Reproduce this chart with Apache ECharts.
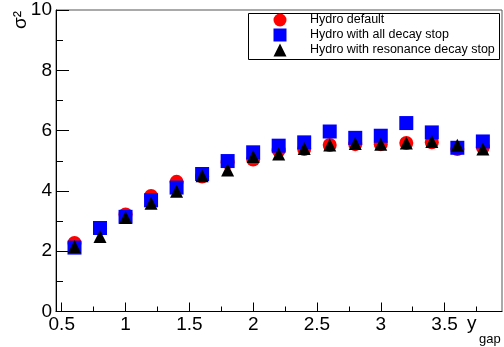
<!DOCTYPE html>
<html>
<head>
<meta charset="utf-8">
<script src="https://cdn.jsdelivr.net/npm/echarts@6/dist/echarts.min.js"></script>
<style>
html,body{margin:0;padding:0;background:#fff;}
#chart{width:504px;height:347px;}
</style>
</head>
<body>
<div id="chart"></div>
<script>
// ---- data ----
const yGap = [0.6, 0.8, 1.0, 1.2, 1.4, 1.6, 1.8, 2.0, 2.2, 2.4, 2.6, 2.8, 3.0, 3.2, 3.4, 3.6, 3.8];
const hydroDefault = [2.27, 2.75, 3.22, 3.83, 4.30, 4.48, 4.95, 5.04, 5.35, 5.39, 5.52, 5.55, 5.55, 5.59, 5.61, 5.39, 5.45];
const hydroAllDecayStop = [2.12, 2.77, 3.14, 3.69, 4.11, 4.56, 4.99, 5.28, 5.50, 5.61, 5.97, 5.76, 5.83, 6.25, 5.94, 5.43, 5.64];
const hydroResonanceStop = [2.16, 2.49, 3.12, 3.59, 3.99, 4.50, 4.69, 5.14, 5.22, 5.41, 5.52, 5.57, 5.55, 5.59, 5.64, 5.51, 5.39];
const seriesNames = ['Hydro default', 'Hydro with all decay stop', 'Hydro with resonance decay stop'];
const xMajorTicks = [0.5, 1, 1.5, 2, 2.5, 3, 3.5];
const xMinorTicks = [0.75, 1.25, 1.75, 2.25, 2.75, 3.25, 3.75];
const xRange = [0.455, 3.95];
const yRange = [0, 10];
const yTickStep = 2;
const yTitle = 'σ²';
const xTitleMain = 'y';
const xTitleSub = 'gap';

const FONT = 'Liberation Sans, Arial, Helvetica, sans-serif';
const pairs = arr => yGap.map((x, i) => [x, arr[i]]);

const chart = echarts.init(document.getElementById('chart'), null, {renderer: 'canvas'});
chart.setOption({
  animation: false,
  backgroundColor: '#ffffff',
  grid: {left: 56, right: 2, top: 10, bottom: 35.5, show: true, borderColor: '#555', borderWidth: 1, backgroundColor: 'transparent'},
  xAxis: [
    {
      type: 'value', min: xRange[0], max: xRange[1], position: 'bottom',
      splitLine: {show: false},
      axisLine: {show: true, lineStyle: {color: '#000', width: 1}},
      axisTick: {show: true, inside: true, length: 9, customValues: xMajorTicks, lineStyle: {color: '#000'}},
      axisLabel: {show: true, customValues: xMajorTicks, margin: 4, color: '#000', fontSize: 19, fontFamily: FONT,
        formatter: v => String(v)}
    },
    {
      type: 'value', min: xRange[0], max: xRange[1], position: 'bottom', offset: 0,
      splitLine: {show: false},
      axisLine: {show: false},
      axisTick: {show: true, inside: true, length: 5, customValues: xMinorTicks, lineStyle: {color: '#000'}},
      axisLabel: {show: false}
    }
  ],
  yAxis: {
    type: 'value', min: yRange[0], max: yRange[1], interval: yTickStep,
    splitLine: {show: false},
    axisLine: {show: true, lineStyle: {color: '#000', width: 1}},
    axisTick: {show: true, inside: true, length: 13, lineStyle: {color: '#000'}},
    minorTick: {show: true, splitNumber: 2, length: 7, lineStyle: {color: '#000'}},
    axisLabel: {margin: 4, color: '#000', fontSize: 19, fontFamily: FONT}
  },
  legend: {
    orient: 'vertical', left: 273.5, top: 13.5, padding: 0,
    itemWidth: 13, itemHeight: 13, itemGap: 2,
    symbolKeepAspect: true,
    data: seriesNames,
    textStyle: {color: '#000', fontSize: 12.5, fontFamily: FONT, padding: [0, 0, 0, 18.5]}
  },
  graphic: [
    {type: 'rect', left: 248, top: 13, z: 0, shape: {width: 251, height: 46},
      style: {fill: '#fff', stroke: '#000', lineWidth: 1}},
    {type: 'text', x: 21, y: 11, rotation: Math.PI / 2, z: 5,
      style: {text: yTitle, fill: '#000', font: '19px ' + FONT, align: 'right', verticalAlign: 'middle'}},
    {type: 'text', x: 467, y: 314.6, z: 5,
      style: {text: xTitleMain, fill: '#000', font: '19px ' + FONT, align: 'left', verticalAlign: 'top'}},
    {type: 'text', x: 479, y: 333.3, z: 5,
      style: {text: xTitleSub, fill: '#000', font: '13px ' + FONT, align: 'left', verticalAlign: 'top'}}
  ],
  series: [
    {type: 'scatter', name: seriesNames[0], data: pairs(hydroDefault), symbol: 'circle', symbolSize: 14,
      symbolKeepAspect: true, itemStyle: {color: '#ff0000', opacity: 1}},
    {type: 'scatter', name: seriesNames[1], data: pairs(hydroAllDecayStop), symbol: 'rect', symbolSize: 14,
      symbolKeepAspect: true, itemStyle: {color: '#0000ff', opacity: 1}},
    {type: 'scatter', name: seriesNames[2], data: pairs(hydroResonanceStop), symbol: 'triangle', symbolSize: 13,
      symbolKeepAspect: true, itemStyle: {color: '#000000', opacity: 1}}
  ]
});
</script>
</body>
</html>
